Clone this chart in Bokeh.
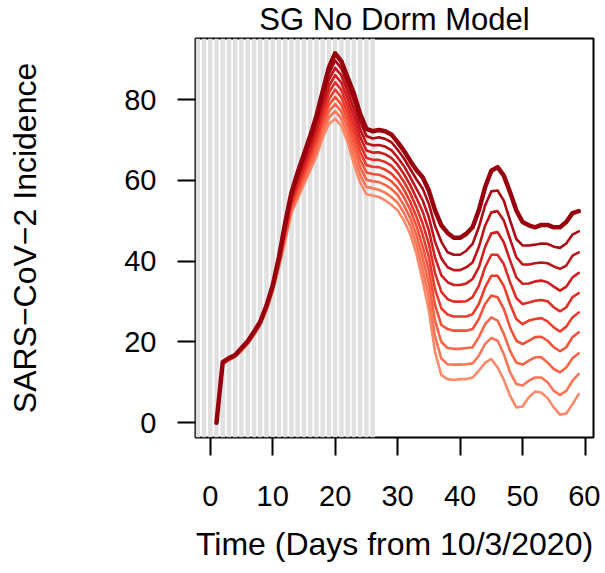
from bokeh.plotting import figure
from bokeh.models import Range1d, FixedTicker, Span
from bokeh.embed import file_html
from bokeh.resources import INLINE

# ---- data ----
days = list(range(1, 60))
shade_days = list(range(-3, 27))
x_ticks = [0, 10, 20, 30, 40, 50, 60]
y_ticks = [0, 20, 40, 60, 80]

line01 = [0, 15.0, 16.0, 16.8, 18.5, 20.2, 22.5, 25.0, 29.0, 34.0,
          41.0, 49.5, 57.0, 62.0, 66.5, 71.0, 76.0, 82.0, 88.0, 91.5,
          89.5, 85.5, 81.5, 76.5, 72.8, 72.2, 72.5, 72.2, 71.4, 69.5,
          67.4, 64.9, 62.6, 60.8, 57.5, 52.6, 48.9, 47.0, 45.8, 45.8,
          46.8, 48.4, 52.6, 58.3, 62.4, 63.3, 61.2, 57.1, 52.6, 49.7,
          48.9, 48.4, 49.0, 49.0, 48.4, 48.4, 49.7, 51.9, 52.4]
line02 = [0, 14.9, 15.9, 16.7, 18.4, 20.1, 22.4, 24.9, 28.9, 33.8,
          40.7, 49.0, 56.4, 61.3, 65.7, 70.1, 74.9, 80.7, 86.4, 89.7,
          87.7, 83.7, 79.6, 74.6, 71.0, 70.4, 70.7, 70.3, 69.5, 67.6,
          65.5, 62.9, 60.3, 58.0, 54.2, 48.7, 44.8, 42.2, 41.6, 41.6,
          42.6, 44.3, 48.4, 53.8, 57.3, 57.5, 55.0, 50.1, 45.5, 43.9,
          43.9, 44.1, 44.4, 44.3, 43.6, 43.3, 44.4, 46.6, 47.4]
line03 = [0, 14.9, 15.9, 16.7, 18.3, 20.0, 22.3, 24.8, 28.7, 33.7,
          40.4, 48.5, 55.9, 60.6, 64.8, 69.1, 73.8, 79.4, 84.9, 87.9,
          86.0, 82.0, 77.6, 72.7, 69.2, 68.7, 68.8, 68.4, 67.5, 65.7,
          63.6, 60.9, 58.0, 55.1, 50.9, 44.8, 40.7, 38.5, 37.8, 37.8,
          38.5, 39.7, 43.5, 48.8, 52.1, 52.4, 50.1, 45.5, 41.0, 39.2,
          39.2, 39.5, 39.7, 39.5, 38.7, 38.1, 38.9, 41.4, 42.2]
line04 = [0, 14.8, 15.8, 16.6, 18.3, 20.0, 22.2, 24.7, 28.6, 33.5,
          40.2, 48.0, 55.3, 59.8, 64.0, 68.2, 72.7, 78.2, 83.3, 86.1,
          84.2, 80.2, 75.7, 70.8, 67.4, 66.9, 67.0, 66.5, 65.6, 63.9,
          61.6, 58.9, 55.7, 52.3, 47.6, 40.9, 36.5, 34.8, 34.1, 34.1,
          34.5, 35.6, 38.5, 43.5, 46.9, 47.2, 44.7, 40.2, 36.0, 34.4,
          34.5, 35.0, 35.2, 34.8, 33.7, 32.7, 33.7, 36.0, 37.1]
line05 = [0, 14.8, 15.8, 16.6, 18.2, 19.9, 22.1, 24.6, 28.5, 33.3,
          39.9, 47.5, 54.8, 59.1, 63.2, 67.2, 71.6, 76.9, 81.8, 84.3,
          82.4, 78.4, 73.7, 68.9, 65.6, 65.1, 65.1, 64.6, 63.7, 62.0,
          59.7, 56.9, 53.4, 49.4, 44.3, 37.0, 32.4, 30.6, 30.0, 30.0,
          30.1, 31.1, 33.9, 38.5, 41.6, 41.6, 39.3, 34.8, 30.9, 29.4,
          29.8, 30.2, 30.4, 30.1, 28.6, 27.6, 28.6, 31.1, 32.1]
line06 = [0, 14.7, 15.7, 16.5, 18.1, 19.8, 22.1, 24.6, 28.3, 33.2,
          39.6, 47.0, 54.2, 58.4, 62.3, 66.3, 70.4, 75.6, 80.2, 82.5,
          80.6, 76.6, 71.8, 67.1, 63.8, 63.4, 63.3, 62.7, 61.7, 60.1,
          57.8, 54.8, 51.1, 46.6, 41.0, 33.0, 28.3, 26.8, 26.3, 26.3,
          26.3, 26.9, 29.4, 33.5, 36.4, 36.4, 33.9, 29.4, 25.7, 24.4,
          25.3, 25.7, 25.9, 25.1, 23.6, 22.6, 23.8, 26.1, 27.3]
line07 = [0, 14.7, 15.7, 16.5, 18.0, 19.7, 22.0, 24.5, 28.2, 33.0,
          39.3, 46.5, 53.7, 57.7, 61.5, 65.3, 69.3, 74.3, 78.7, 80.7,
          78.8, 74.8, 69.8, 65.2, 62.0, 61.6, 61.4, 60.8, 59.8, 58.2,
          55.9, 52.8, 48.8, 43.7, 37.7, 29.1, 24.2, 23.2, 22.8, 22.8,
          22.8, 23.2, 25.7, 29.4, 31.5, 31.1, 28.2, 23.6, 20.3, 19.5,
          20.3, 21.2, 21.3, 20.3, 18.7, 17.7, 18.7, 21.2, 22.4]
line08 = [0, 14.6, 15.6, 16.4, 18.0, 19.7, 21.9, 24.4, 28.1, 32.8,
          39.1, 46.0, 53.1, 56.9, 60.7, 64.4, 68.2, 73.1, 77.1, 78.9,
          77.1, 73.1, 67.9, 63.3, 60.2, 59.8, 59.6, 58.9, 57.9, 56.4,
          53.9, 50.8, 46.5, 40.9, 34.4, 25.2, 20.0, 18.5, 18.3, 18.3,
          18.5, 18.7, 21.2, 24.4, 26.1, 25.3, 22.0, 17.8, 14.9, 14.4,
          15.4, 16.2, 16.2, 14.9, 13.3, 12.5, 13.7, 16.0, 17.2]
line09 = [0, 14.6, 15.6, 16.4, 17.9, 19.6, 21.8, 24.3, 27.9, 32.7,
          38.8, 45.5, 52.6, 56.2, 59.8, 63.4, 67.1, 71.8, 75.6, 77.1,
          75.3, 71.3, 65.9, 61.4, 58.4, 58.1, 57.7, 57.0, 55.9, 54.5,
          52.0, 48.8, 44.2, 38.0, 31.1, 21.3, 15.9, 14.5, 14.4, 14.4,
          14.5, 14.7, 16.6, 19.5, 21.0, 20.3, 17.0, 12.5, 9.6, 9.2,
          10.4, 11.2, 11.2, 10.0, 7.9, 6.9, 7.9, 10.4, 12.1]
line10 = [0, 14.5, 15.5, 16.3, 17.8, 19.5, 21.7, 24.2, 27.8, 32.5,
          38.5, 45.0, 52.0, 55.5, 59.0, 62.5, 66.0, 70.5, 74.0, 75.3,
          73.5, 69.5, 64.0, 59.5, 56.6, 56.3, 55.9, 55.1, 54.0, 52.6,
          50.1, 46.8, 41.9, 35.2, 27.8, 17.4, 11.8, 10.8, 10.6, 10.8,
          10.8, 11.2, 12.9, 14.8, 15.8, 13.7, 10.6, 6.7, 3.8, 4.0,
          6.3, 7.7, 7.5, 6.1, 3.8, 2.0, 2.3, 4.6, 7.1]

series = [line01, line02, line03, line04, line05, line06, line07, line08, line09, line10]
colors = ["#99000D", "#AC0A13", "#BF1319", "#D01D1F", "#E02D26",
          "#EE3B2C", "#F5503A", "#FA6548", "#FB7657", "#FC8A6A"]
widths = [4.5, 2.6, 2.6, 2.6, 2.6, 2.6, 2.6, 2.6, 2.6, 2.6]

FONT = "Liberation Sans"

p = figure(width=600, height=573, output_backend="svg", toolbar_location=None,
           x_range=Range1d(-2.36, 61.36), y_range=Range1d(-3.66, 95.16),
           min_border_left=195, min_border_right=7, min_border_top=38,
           min_border_bottom=136, title="SG No Dorm Model")
p.grid.visible = False
p.background_fill_color = "white"
p.border_fill_color = "white"
p.outline_line_color = "black"
p.outline_line_width = 2
p.outline_line_alpha = 1.0

p.title.align = "center"
p.title.vertical_align = "top"
p.title.standoff = 0
p.title.offset = -3
p.title.text_font = FONT
p.title.text_font_size = "31px"
p.title.text_font_style = "normal"
p.title.text_color = "black"

for d in shade_days:
    p.add_layout(Span(location=d, dimension="height", line_color="#e0e0e0",
                      line_width=4.5, level="underlay"))

for vals, col, w in reversed(list(zip(series, colors, widths))):
    p.line(days, vals, line_color=col, line_width=w,
           line_join="round", line_cap="round")

for ax in (p.xaxis[0], p.yaxis[0]):
    ax.axis_line_color = None
    ax.major_tick_in = 0
    ax.major_tick_out = 18
    ax.major_tick_line_width = 2
    ax.major_tick_line_color = "black"
    ax.minor_tick_line_color = None
    ax.major_label_text_font = FONT
    ax.major_label_text_font_size = "29px"
    ax.major_label_text_color = "black"
    ax.axis_label_text_font = FONT
    ax.axis_label_text_font_size = "32px"
    ax.axis_label_text_font_style = "normal"
    ax.axis_label_text_color = "black"

p.xaxis[0].ticker = FixedTicker(ticks=x_ticks)
p.yaxis[0].ticker = FixedTicker(ticks=y_ticks)
p.xaxis[0].major_label_standoff = 30
p.yaxis[0].major_label_standoff = 21
p.xaxis[0].axis_label = "Time (Days from 10/3/2020)"
p.yaxis[0].axis_label = "SARS\u2212CoV\u22122 Incidence"
p.xaxis[0].axis_label_standoff = 17
p.yaxis[0].axis_label_standoff = 78

open("out.html", "w").write(file_html(p, INLINE))
